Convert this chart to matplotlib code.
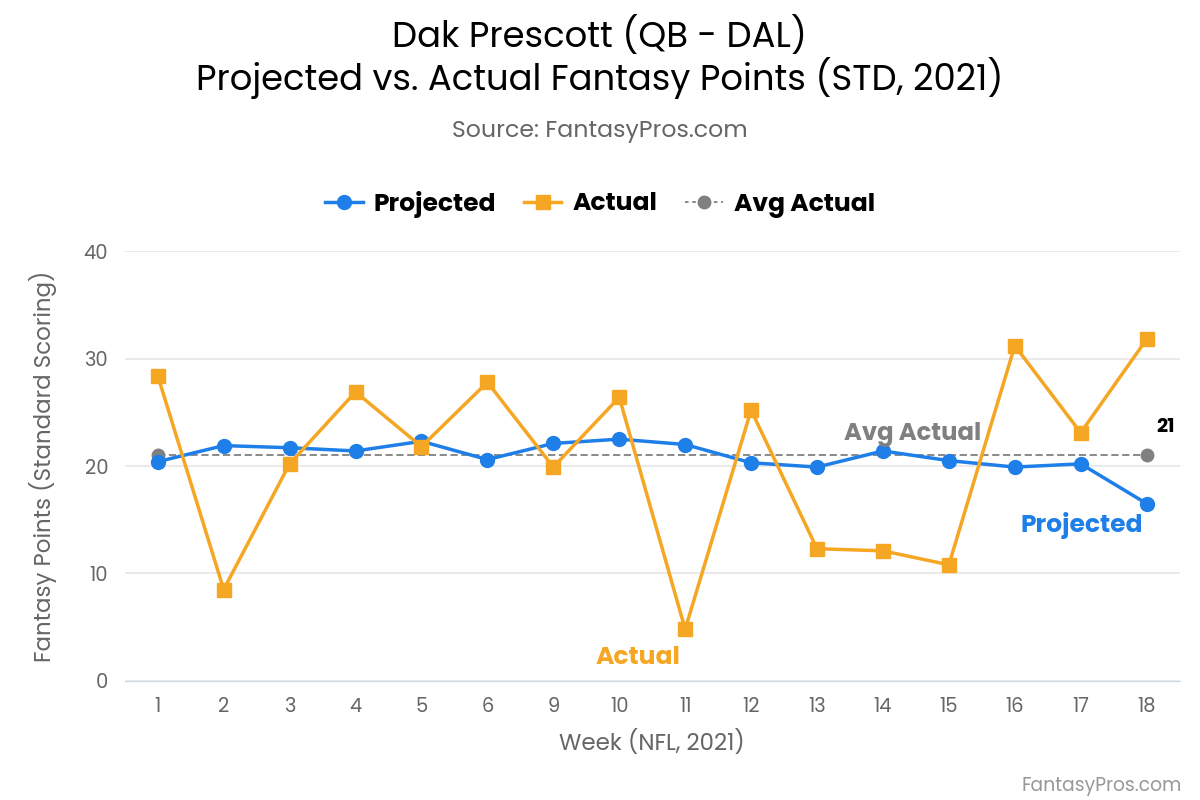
import matplotlib.pyplot as plt
from matplotlib.lines import Line2D

plt.rcParams['font.family'] = ['Poppins', 'Open Sans', 'DejaVu Sans']

weeks = ["1", "2", "3", "4", "5", "6", "9", "10", "11", "12", "13", "14", "15", "16", "17", "18"]
projected = [20.4, 21.9, 21.7, 21.4, 22.3, 20.6, 22.1, 22.5, 22.0, 20.3, 19.9, 21.4, 20.5, 19.9, 20.2, 16.5]
actual = [28.4, 8.5, 20.2, 26.9, 21.8, 27.8, 19.9, 26.4, 4.8, 25.2, 12.3, 12.1, 10.8, 31.2, 23.1, 31.8]
avg_actual = 21

blue = "#1f7fe8"
orange = "#f5a623"
gray = "#808080"

fig = plt.figure(figsize=(12, 8), dpi=100)
ax = fig.add_axes([0.104, 0.149, 0.879, 0.537])

x = list(range(len(weeks)))

ax.plot([x[0], x[-1]], [avg_actual, avg_actual], color=gray, linestyle=(0, (4, 2)),
        linewidth=1.3, marker="o", markersize=9, zorder=2)
ax.plot(x, projected, color=blue, linewidth=2.5, marker="o", markersize=10, zorder=3)
ax.plot(x, actual, color=orange, linewidth=2.5, marker="s", markersize=10, zorder=4)

ax.set_xlim(-0.5, len(weeks) - 0.5)
ax.set_ylim(0, 40)
ax.set_yticks([0, 10, 20, 30, 40])
ax.set_xticks(x)
ax.set_xticklabels(weeks)
ax.tick_params(axis="both", length=0, labelsize=14, colors="#666666", pad=12)
ax.grid(axis="y", color="#e6e6e6", linewidth=1.2)
ax.set_axisbelow(True)
for s in ["top", "right", "left"]:
    ax.spines[s].set_visible(False)
ax.spines["bottom"].set_color("#ccd6eb")

ax.set_xlabel("Week (NFL, 2021)", fontsize=16.5, color="#666666", labelpad=9)
ax.set_ylabel("Fantasy Points (Standard Scoring)", fontsize=16.5, color="#666666")
ax.yaxis.set_label_coords(-0.064, 0.5)

# series labels
ax.text(x[8] - 0.07, 3.2, "Actual", color=orange, fontsize=18, fontweight="bold", ha="right", va="top")
ax.text(x[-1] - 0.05, 15.7, "Projected", color=blue, fontsize=18, fontweight="bold", ha="right", va="top")
ax.text(x[11] + 0.45, 21.8, "Avg Actual", color=gray, fontsize=17.5, fontweight="bold", ha="center", va="bottom")
ax.text(x[-1] + 0.15, 22.7, "21", color="black", fontsize=14, fontweight="bold", ha="left", va="bottom")

fig.text(0.5, 0.955, "Dak Prescott (QB - DAL)", ha="center", va="center", fontsize=25.5, color="black")
fig.text(0.5, 0.902, "Projected vs. Actual Fantasy Points (STD, 2021)", ha="center", va="center", fontsize=25.5, color="black")
fig.text(0.5, 0.836, "Source: FantasyPros.com", ha="center", va="center", fontsize=17, color="#666666")
fig.text(0.985, 0.018, "FantasyPros.com", ha="right", va="center", fontsize=13.5, color="#999999")

handles = [
    Line2D([], [], color=blue, linewidth=2.5, marker="o", markersize=10),
    Line2D([], [], color=orange, linewidth=2.5, marker="s", markersize=10),
    Line2D([], [], color=gray, linewidth=1.3, linestyle=(0, (2, 2)), marker="o", markersize=9),
]
leg = fig.legend(handles, ["Projected", "Actual", "Avg Actual"], loc="center", bbox_to_anchor=(0.5, 0.745),
                 ncol=3, frameon=False, prop={"size": 18, "weight": "bold"}, handlelength=1.5,
                 columnspacing=1.1, handletextpad=0.45)

fig.savefig("out.png", dpi=100)
